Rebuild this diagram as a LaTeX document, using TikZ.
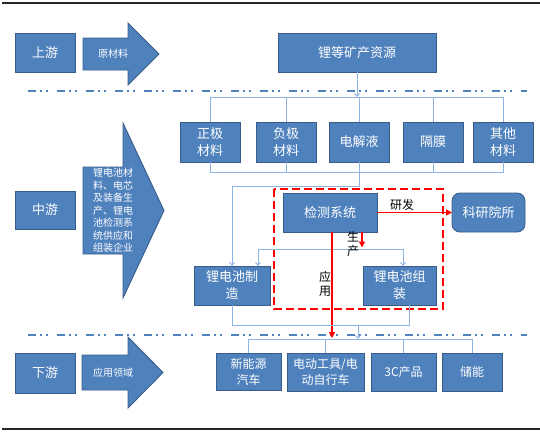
\documentclass[tikz,border=0pt]{standalone}
\usepackage{fontspec}
\setmainfont{Noto Sans CJK SC}
\usetikzlibrary{arrows.meta}
\definecolor{boxfill}{RGB}{79,129,189}
\definecolor{boxdraw}{RGB}{56,93,138}
\definecolor{conn}{RGB}{141,179,226}
\definecolor{sepc}{RGB}{79,129,189}
\definecolor{redc}{RGB}{255,0,0}
\begin{document}
\begin{tikzpicture}[x=1pt,y=-1pt,
  box/.style={draw=boxdraw, fill=boxfill, line width=0.9pt, text=white, align=center,
    inner sep=1pt, outer sep=0pt, font=\fontsize{13}{17}\selectfont},
  sbox/.style={box, font=\fontsize{12}{16}\selectfont},
  arrshape/.style={draw=boxdraw, fill=boxfill, line width=0.9pt},
  arrtext/.style={text=white, align=center, inner sep=0pt, font=\fontsize{10}{12.5}\selectfont},
  conline/.style={draw=conn, line width=0.9pt},
  contip/.style={conline, -{Straight Barb[length=3pt,width=5pt]}},
  redarrow/.style={draw=redc, line width=1.6pt, -{Triangle[length=6pt,width=6pt]}},
  lbl/.style={text=black, align=center, inner sep=0pt, font=\fontsize{12}{13.5}\selectfont},
  sepline/.style={draw=sepc, line width=1.8pt, dash pattern=on 8pt off 4pt on 2pt off 4pt on 2pt off 9pt},
  frame/.style={draw=black!85, line width=1.5pt}
]
\useasboundingbox (0,0) rectangle (540,432);
% frame lines
\coordinate (ftl) at (2,3); \coordinate (ftr) at (540,3);
\coordinate (fbl) at (2,429); \coordinate (fbr) at (540,429);
\draw[frame] (ftl) -- (ftr);
\draw[frame] (fbl) -- (fbr);
% separators
\coordinate (s1a) at (28,91); \coordinate (s1b) at (527,91);
\coordinate (s2a) at (28,335); \coordinate (s2b) at (527,335);
\draw[sepline] (s1a) -- (s1b);
\draw[sepline] (s2a) -- (s2b);

% left labels
\node[box, minimum width=60pt, minimum height=39pt] (up) at (45,52.5) {上游};
\node[box, minimum width=60pt, minimum height=38pt] (mid) at (45,210) {中游};
\node[box, minimum width=60pt, minimum height=40pt] (down) at (45,373) {下游};

% big arrows
\draw[arrshape] (83,38) -- (128,38) -- (128,23) -- (159,54) -- (128,85) -- (128,70) -- (83,70) -- cycle;
\node[arrtext] (a1) at (113,54) {原材料};
\draw[arrshape] (83,167) -- (123,167) -- (123,123) -- (164,210.5) -- (123,298) -- (123,254) -- (83,254) -- cycle;
\node[arrtext] (a2) at (113,210.5) {锂电池材\\料、电芯\\及装备生\\产、锂电\\池检测系\\统供应和\\组装企业};
\draw[arrshape] (82,355) -- (128,355) -- (128,337) -- (163,372.5) -- (128,408) -- (128,390) -- (82,390) -- cycle;
\node[arrtext] (a3) at (113,372.5) {应用领域};

% upstream
\node[box, minimum width=158pt, minimum height=39pt] (ore) at (357,52.5) {锂等矿产资源};

% materials
\node[box, minimum width=60pt, minimum height=40pt] (zj) at (210,142) {正极\\材料};
\node[box, minimum width=60pt, minimum height=40pt] (fj) at (286,142) {负极\\材料};
\node[box, minimum width=60pt, minimum height=40pt] (dj) at (359,142) {电解液};
\node[box, minimum width=60pt, minimum height=40pt] (gm) at (433,142) {隔膜};
\node[box, minimum width=60pt, minimum height=40pt] (qt) at (503,142) {其他\\材料};

% middle
\node[box, minimum width=94pt, minimum height=39pt] (jc) at (330,212.5) {检测系统};
\node[box, rounded corners=8pt, minimum width=73pt, minimum height=39pt] (ky) at (488.5,212.5) {科研院所};
\node[box, minimum width=76pt, minimum height=39pt] (zz) at (232,285.5) {锂电池制\\造};
\node[box, minimum width=73pt, minimum height=39pt] (zp) at (399.5,285.5) {锂电池组\\装};

% downstream
\node[sbox, minimum width=65pt, minimum height=37pt] (xny) at (248.5,371.5) {新能源\\汽车};
\node[sbox, minimum width=77pt, minimum height=38pt] (ddgj) at (325.5,372) {电动工具/电\\动自行车};
\node[sbox, minimum width=65pt, minimum height=38pt] (c3) at (403.5,372) {3C产品};
\node[sbox, minimum width=60pt, minimum height=38pt] (cn) at (472,372) {储能};

% red dashed frame
\coordinate (rf1) at (274,189); \coordinate (rf2) at (443,309);
\draw[draw=redc, line width=1.6pt, dash pattern=on 8pt off 4pt] (rf1) rectangle (rf2);

% upstream -> materials bus
\coordinate (tb) at (357,97);
\draw[contip] (ore.south) -- (tb);
\draw[conline] (zj.north) -- (zj.north |- tb) -- (qt.north |- tb) -- (qt.north);
\draw[conline] (fj.north) -- (fj.north |- tb);
\draw[conline] (dj.north) -- (dj.north |- tb);
\draw[conline] (gm.north) -- (gm.north |- tb);

% materials -> lower bus
\coordinate (mb) at (359,172);
\draw[conline] (zj.south) -- (zj.south |- mb) -- (qt.south |- mb) -- (qt.south);
\draw[conline] (fj.south) -- (fj.south |- mb);
\draw[conline] (gm.south) -- (gm.south |- mb);
\coordinate (mb2) at (359,186);
\draw[contip] (dj.south) -- (mb2) -| (zz.north);

% production distribution line
\coordinate (pl1) at (258,249); \coordinate (pl2) at (403,249);
\draw[conline] (pl1) -- (pl2);
\draw[contip] (pl1) -- (pl1 |- zz.north);
\draw[contip] (pl2) -- (pl2 |- zp.north);

% red arrows
\coordinate (sc1) at (362,232); \coordinate (sc2) at (362,247.5);
\draw[redarrow] (sc1) -- (sc2);
\coordinate (yy1) at (332,232); \coordinate (yy2) at (332,338);
\draw[redarrow] (yy1) -- (yy2);
\draw[redarrow] (jc.east) -- (ky.west);
\node[lbl] (yf) at (402,205) {研发};
\node[lbl] (scl) at (353,244) {生\\产};
\node[lbl] (yyl) at (325,284) {应\\用};

% bottom connectors
\coordinate (bb) at (358,325);
\coordinate (zpb) at (409,305);
\draw[conline] (zz.south) -- (zz.south |- bb) -| (zpb);
\coordinate (db) at (358,339);
\draw[contip] (bb) -- (db);
\draw[conline] (xny.north) -- (xny.north |- db) -- (cn.north |- db) -- (cn.north);
\draw[conline] (ddgj.north) -- (ddgj.north |- db);
\draw[conline] (c3.north) -- (c3.north |- db);
\end{tikzpicture}
\end{document}
